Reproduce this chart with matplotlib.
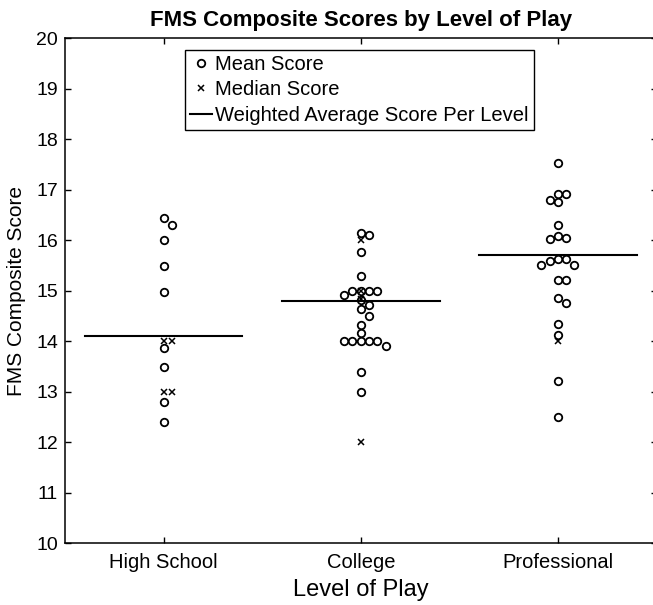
import matplotlib
matplotlib.use('Agg')
import matplotlib.pyplot as plt
import numpy as np

plt.rcParams['font.family'] = ['Liberation Sans', 'DejaVu Sans']

levels = ['High School', 'College', 'Professional']

# per-study mean and median composite scores
hs_mean = [16.45, 16.3, 16.0, 15.5, 14.97, 13.87, 13.5, 12.8, 12.4]
hs_median = [14.0, 14.0, 13.0, 13.0]
col_mean = [16.1, 16.15, 15.77, 15.3, 15.0, 15.0, 15.0, 15.0, 14.92, 14.82,
            14.72, 14.63, 14.5, 14.32, 14.16, 14.0, 14.0, 14.0, 14.0, 14.0,
            13.9, 13.39, 13.0]
col_median = [16.0, 15.0, 14.83, 12.0]
pro_mean = [17.53, 16.92, 16.92, 16.8, 16.75, 16.3, 16.09, 16.04, 16.02,
            15.62, 15.62, 15.6, 15.51, 15.51, 15.22, 15.22, 14.85, 14.75,
            14.35, 14.12, 13.21, 12.51]
pro_median = [14.0]
weighted_avg = [14.1, 14.8, 15.7]

means = [hs_mean, col_mean, pro_mean]
medians = [hs_median, col_median, pro_median]


def swarm_offsets(values, gap=0.16, step=0.042):
    # greedy column placement so markers at similar heights sit side by side
    values = np.asarray(values, dtype=float)
    order = np.argsort(-values, kind='stable')
    cands = [0]
    for j in range(1, 10):
        cands += [j, -j]
    placed = []
    offs = np.zeros(len(values))
    for i in order:
        v = values[i]
        for c in cands:
            if all(not (pc == c and abs(pv - v) < gap) for pv, pc in placed):
                break
        placed.append((v, c))
        offs[i] = c * step
    return offs


fig = plt.figure(figsize=(6.53, 6.05), dpi=100)
ax = fig.add_axes([65 / 653, 1 - 543.3 / 605, 591.5 / 653, 505 / 605])

for k, pos in enumerate(range(1, 4)):
    m = np.asarray(means[k])
    ax.plot(pos + swarm_offsets(m), m, 'o', ms=5.4, mfc='none', mec='black',
            mew=1.3, linestyle='none', label='Mean Score' if k == 0 else None)
for k, pos in enumerate(range(1, 4)):
    md = np.asarray(medians[k])
    ax.plot(pos + swarm_offsets(md), md, 'x', ms=4.5, color='black', mew=1.1,
            linestyle='none', label='Median Score' if k == 0 else None)
for k, pos in enumerate(range(1, 4)):
    ax.plot([pos - 0.4, pos + 0.4], [weighted_avg[k]] * 2, color='black', lw=1.5,
            label='Weighted Average Score Per Level' if k == 0 else None)

ax.set_xlim(0.5, 3.5)
ax.set_ylim(10, 20)
ax.set_xticks([1, 2, 3])
ax.set_xticklabels(levels, fontsize=14.5)
ax.set_yticks(range(10, 21))
ax.tick_params(axis='y', labelsize=14, pad=5)
ax.tick_params(axis='x', pad=7)
ax.tick_params(direction='in', length=4, width=1, top=True, right=True)
for sp in ax.spines.values():
    sp.set_linewidth(1.1)

ax.set_xlabel('Level of Play', fontsize=17, labelpad=5)
ax.set_ylabel('FMS Composite Score', fontsize=15, labelpad=7)
ax.set_title('FMS Composite Scores by Level of Play', fontsize=16,
             fontweight='bold', pad=9)

# order: mean, median, weighted
h, l = ax.get_legend_handles_labels()
leg = ax.legend(h, l, loc='upper left', bbox_to_anchor=(0.203, 0.977),
                borderaxespad=0, fontsize=14.5, handlelength=1.1,
                handletextpad=0.15, borderpad=0.25, labelspacing=0.32,
                fancybox=False, framealpha=1)
leg.get_frame().set_edgecolor('black')
leg.get_frame().set_linewidth(1.0)

fig.savefig('out.png', dpi=100)
